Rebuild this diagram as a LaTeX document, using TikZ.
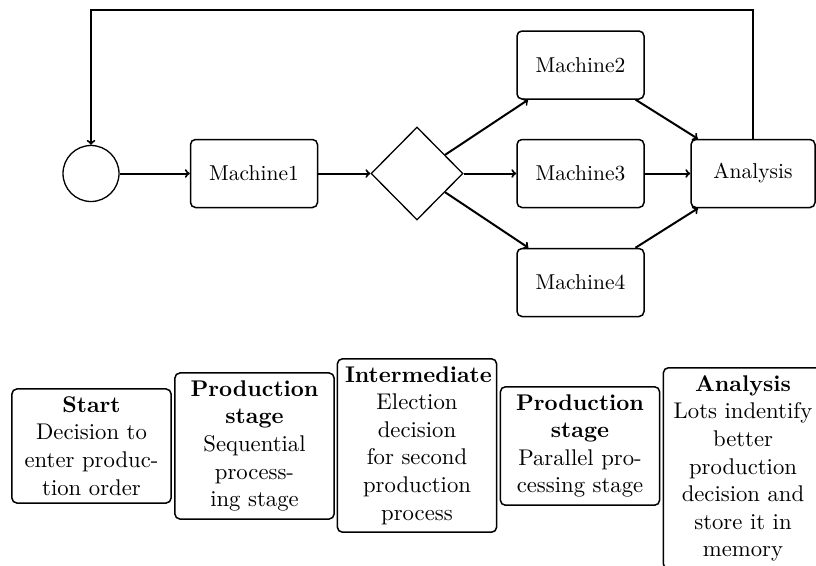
\documentclass[tikz,border=0pt]{standalone}
\usepackage{fontspec}
\setmainfont{lmroman10-regular.otf}[BoldFont=lmroman10-bold.otf]
\usetikzlibrary{shapes.geometric}
\begin{document}
\begin{tikzpicture}[x=1pt,y=-1pt,
  conn/.style={line width=2pt,->,>=to},
  machine/.style={draw,line width=1.5pt,rounded corners=5pt,minimum width=127pt,
    minimum height=68pt,inner sep=0pt,font=\fontsize{21.5}{25}\selectfont},
  stagebox/.style={draw,line width=1.5pt,rounded corners=5pt,text width=144pt,
    align=center,inner sep=7.6pt,font=\fontsize{22.7}{27.6}\selectfont},
]
\useasboundingbox (0,0) rectangle (816,565);

% process flow
\node[circle,draw,line width=1.3pt,minimum size=56pt,inner sep=0pt] (start) at (91,173.5) {};
\node[machine] (m1) at (254,173.5) {Machine1};
\node[diamond,draw,line width=1.3pt,minimum width=92pt,minimum height=93pt,inner sep=0pt] (dec) at (417,173.5) {};
\node[machine] (m2) at (580.5,65) {Machine2};
\node[machine] (m3) at (580.5,173.5) {Machine3};
\node[machine] (m4) at (580.5,282.5) {Machine4};
\node[machine,minimum width=124pt] (an) at (753,173.5) {Analysis};

\draw[conn] (start) -- (m1);
\draw[conn] (m1) -- (dec);
\draw[conn] (dec) -- (m2);
\draw[conn] (dec) -- (m3);
\draw[conn] (dec) -- (m4);
\draw[conn] (m2) -- (an);
\draw[conn] (m3) -- (an);
\draw[conn] (m4) -- (an);
\draw[conn] (an.north) -- ++(0,-128.5) -| (start.north);

% stage descriptions
\node[stagebox] (s1) at (91.5,446) {\textbf{Start}\\Decision to\\enter produc-\\tion order};
\node[stagebox] (s2) at (254.5,446) {\textbf{Production}\\\textbf{stage}\\Sequential\\process-\\ing stage};
\node[stagebox] (s3) at (417,445.5) {\textbf{Intermediate}\\Election\\decision\\for second\\production\\process};
\node[stagebox] (s4) at (580,446) {\textbf{Production}\\\textbf{stage}\\Parallel pro-\\cessing stage};
\node[stagebox,anchor=north] (s5) at (743,367) {\textbf{Analysis}\\Lots indentify\\better\\production\\decision and\\store it in\\memory};
\end{tikzpicture}
\end{document}
